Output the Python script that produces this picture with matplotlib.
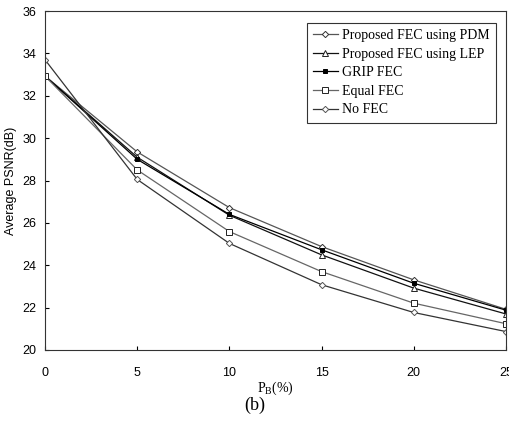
import numpy as np
import matplotlib
matplotlib.use("Agg")
import matplotlib.pyplot as plt

pb = [0, 5, 10, 15, 20, 25]

psnr_pdm = [32.93, 29.35, 26.72, 24.88, 23.31, 21.92]
psnr_lep = [32.93, 29.10, 26.36, 24.49, 22.92, 21.70]
psnr_grip = [32.93, 29.00, 26.40, 24.73, 23.15, 21.88]
psnr_equal = [32.93, 28.50, 25.59, 23.70, 22.21, 21.24]
psnr_nofec = [33.70, 28.05, 25.03, 23.08, 21.77, 20.87]

labels = ["Proposed FEC using PDM", "Proposed FEC using LEP", "GRIP FEC",
          "Equal FEC", "No FEC"]

serif = "Liberation Serif"
sans = "Liberation Sans"

fig = plt.figure(figsize=(5.09, 4.21), dpi=100)
ax = fig.add_axes([45/509, 1-350/421, 461/509, 339/421])

ax.plot(pb, psnr_pdm, color="#555555", lw=0.9, marker="D", ms=3.2,
        mfc="white", mec="#333333", mew=0.7, label=labels[0])
ax.plot(pb, psnr_lep, color="#111111", lw=0.9, marker="^", ms=4,
        mfc="white", mec="#222222", mew=0.7, label=labels[1])
ax.plot(pb, psnr_grip, color="#000000", lw=0.9, marker="s", ms=3,
        mfc="black", mec="black", mew=0.7, label=labels[2])
ax.plot(pb, psnr_equal, color="#666666", lw=0.9, marker="s", ms=4,
        mfc="white", mec="#222222", mew=0.7, label=labels[3])
ax.plot(pb, psnr_nofec, color="#333333", lw=0.9, marker="D", ms=3.2,
        mfc="white", mec="#555555", mew=0.7, label=labels[4])

ax.set_xlim(0, 25)
ax.set_ylim(20, 36)
ax.set_xticks([0, 5, 10, 15, 20, 25])
ax.set_yticks([20, 22, 24, 26, 28, 30, 32, 34, 36])
ax.tick_params(direction="in", length=3, width=0.8, labelsize=9, pad=6)
for t in ax.get_xticklabels() + ax.get_yticklabels():
    t.set_fontfamily(sans)
ax.tick_params(axis="x", pad=12)
for s in ax.spines.values():
    s.set_linewidth(0.8)
    s.set_color("#333333")

ax.set_ylabel("Average PSNR(dB)", fontsize=9, fontfamily=sans, labelpad=4)
ax.set_xlabel("P$\\mathregular{_B}$(%)", fontsize=10, fontfamily=serif, labelpad=1)

leg = ax.legend(loc="upper right", bbox_to_anchor=(1 - 10/461, 1 - 12/339),
                prop={"family": serif, "size": 10}, frameon=True, fancybox=False,
                edgecolor="black", handlelength=1.8, labelspacing=0.4,
                borderpad=0.45, handletextpad=0.3, borderaxespad=0.0)
leg.get_frame().set_linewidth(0.8)

fig.text(255/509, 1-405/421, "(b)", ha="center", va="center",
         fontsize=13, fontfamily=serif)

fig.savefig("out.png", dpi=100)
